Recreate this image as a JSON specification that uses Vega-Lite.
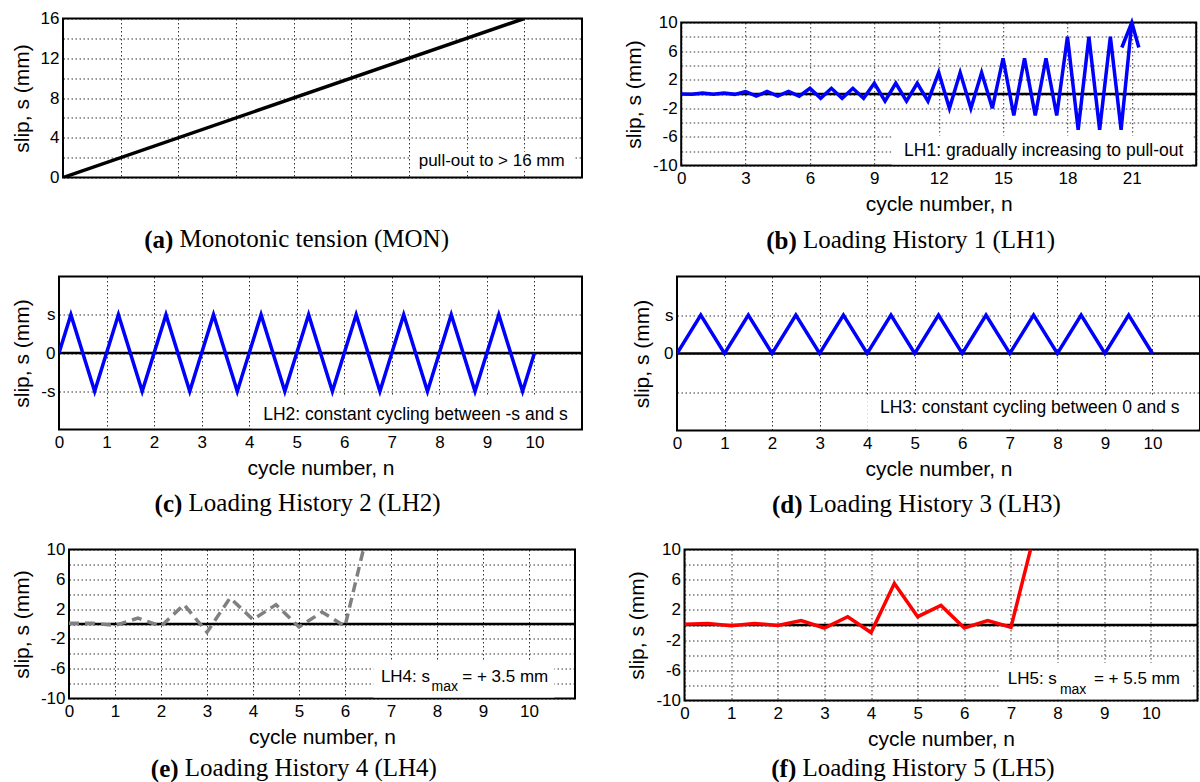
{
  "$schema": "https://vega.github.io/schema/vega-lite/v6.json",
  "background": "white",
  "padding": {"left": 9, "top": 7.5, "right": 0, "bottom": 0},
  "datasets": {
    "mon": [{"n": 0, "s": 0}, {"n": 8, "s": 16}],
    "lh1": [
      {"n": 0, "s": 0}, {"n": 0.5, "s": -0.05}, {"n": 1, "s": 0.15}, {"n": 1.5, "s": -0.05}, {"n": 2, "s": 0.15}, {"n": 2.5, "s": -0.05},
      {"n": 3, "s": 0.35}, {"n": 3.5, "s": -0.3}, {"n": 4, "s": 0.35}, {"n": 4.5, "s": -0.3}, {"n": 5, "s": 0.35}, {"n": 5.5, "s": -0.3},
      {"n": 6, "s": 0.8}, {"n": 6.5, "s": -0.6}, {"n": 7, "s": 0.8}, {"n": 7.5, "s": -0.6}, {"n": 8, "s": 0.8}, {"n": 8.5, "s": -0.6},
      {"n": 9, "s": 1.5}, {"n": 9.5, "s": -1}, {"n": 10, "s": 1.5}, {"n": 10.5, "s": -1}, {"n": 11, "s": 1.5}, {"n": 11.5, "s": -1},
      {"n": 12, "s": 3}, {"n": 12.5, "s": -2}, {"n": 13, "s": 3}, {"n": 13.5, "s": -2}, {"n": 14, "s": 3}, {"n": 14.5, "s": -2},
      {"n": 15, "s": 5}, {"n": 15.5, "s": -3}, {"n": 16, "s": 5}, {"n": 16.5, "s": -3}, {"n": 17, "s": 5}, {"n": 17.5, "s": -3},
      {"n": 18, "s": 8}, {"n": 18.5, "s": -5}, {"n": 19, "s": 8}, {"n": 19.5, "s": -5}, {"n": 20, "s": 8}, {"n": 20.5, "s": -5},
      {"n": 21, "s": 10}
    ],
    "lh2": [
      {"n": 0, "s": 0}, {"n": 0.25, "s": 1}, {"n": 0.75, "s": -1}, {"n": 1.25, "s": 1}, {"n": 1.75, "s": -1},
      {"n": 2.25, "s": 1}, {"n": 2.75, "s": -1}, {"n": 3.25, "s": 1}, {"n": 3.75, "s": -1}, {"n": 4.25, "s": 1},
      {"n": 4.75, "s": -1}, {"n": 5.25, "s": 1}, {"n": 5.75, "s": -1}, {"n": 6.25, "s": 1}, {"n": 6.75, "s": -1},
      {"n": 7.25, "s": 1}, {"n": 7.75, "s": -1}, {"n": 8.25, "s": 1}, {"n": 8.75, "s": -1}, {"n": 9.25, "s": 1},
      {"n": 9.75, "s": -1}, {"n": 10, "s": 0}
    ],
    "lh3": [
      {"n": 0, "s": 0}, {"n": 0.5, "s": 1}, {"n": 1, "s": 0}, {"n": 1.5, "s": 1}, {"n": 2, "s": 0}, {"n": 2.5, "s": 1},
      {"n": 3, "s": 0}, {"n": 3.5, "s": 1}, {"n": 4, "s": 0}, {"n": 4.5, "s": 1}, {"n": 5, "s": 0}, {"n": 5.5, "s": 1},
      {"n": 6, "s": 0}, {"n": 6.5, "s": 1}, {"n": 7, "s": 0}, {"n": 7.5, "s": 1}, {"n": 8, "s": 0}, {"n": 8.5, "s": 1},
      {"n": 9, "s": 0}, {"n": 9.5, "s": 1}, {"n": 10, "s": 0}
    ],
    "lh4": [
      {"n": 0, "s": 0.1}, {"n": 0.5, "s": 0.1}, {"n": 1, "s": -0.2}, {"n": 1.5, "s": 0.8}, {"n": 2, "s": -0.3},
      {"n": 2.5, "s": 2.6}, {"n": 3, "s": -1.1}, {"n": 3.5, "s": 3.5}, {"n": 4, "s": 0.6}, {"n": 4.5, "s": 2.6},
      {"n": 5, "s": -0.4}, {"n": 5.5, "s": 1.6}, {"n": 6, "s": -0.3}, {"n": 6.4, "s": 10}
    ],
    "lh5": [
      {"n": 0, "s": 0.1}, {"n": 0.5, "s": 0.2}, {"n": 1, "s": -0.1}, {"n": 1.5, "s": 0.2}, {"n": 2, "s": -0.05},
      {"n": 2.5, "s": 0.6}, {"n": 3, "s": -0.4}, {"n": 3.5, "s": 1.1}, {"n": 4, "s": -1.0}, {"n": 4.5, "s": 5.5},
      {"n": 5, "s": 1.1}, {"n": 5.5, "s": 2.6}, {"n": 6, "s": -0.4}, {"n": 6.5, "s": 0.6}, {"n": 7, "s": -0.3}, {"n": 7.42, "s": 10}
    ],
    "none": []
  },
  "spacing": 22,
  "vconcat": [
    {
      "spacing": 39.2,
      "hconcat": [
        {
          "spacing": 0,
          "hconcat": [
            {"width": 1, "height": 1, "view": {"stroke": null, "fill": null}, "data": {"name": "none"}, "mark": "point"},
            {
              "title": {"text": "(a)", "fontWeight": "bold", "offset": -25, "dx": -137.8},
              "spacing": 0,
              "vconcat": [
                {"width": 1, "height": 1, "view": {"stroke": null, "fill": null}, "data": {"name": "none"}, "mark": "point"},
                {
                  "width": 519, "height": 159,
                  "title": {"text": "Monotonic tension (MON)", "offset": 41, "dx": 17.7},
                  "layer": [
                    {"data": {"values": [{}]}, "mark": {"type": "rect", "color": "white"},
                     "encoding": {"x": {"datum": 6.03, "type": "quantitative"}, "x2": {"datum": 8.88}, "y": {"datum": 0.8, "type": "quantitative"}, "y2": {"datum": 2.6}}},
                    {"data": {"name": "mon"}, "mark": {"type": "line", "color": "black", "strokeWidth": 3.5, "clip": true},
                     "encoding": {
                       "x": {"field": "n", "type": "quantitative", "scale": {"domain": [0, 9], "nice": false, "zero": false},
                             "axis": {"title": null, "labels": false, "values": [0, 1, 2, 3, 4, 5, 6, 7, 8, 9], "tickCount": 100}},
                       "y": {"field": "s", "type": "quantitative", "scale": {"domain": [0, 16], "nice": false, "zero": false},
                             "axis": {"title": "slip, s (mm)", "values": [0, 2, 4, 6, 8, 10, 12, 14, 16], "tickCount": 100, "labelExpr": "datum.value % 4 == 0 ? '' + datum.value : ''", "labelOverlap": false, "minExtent": 0}}
                     }},
                    {"data": {"values": [{}]}, "mark": {"type": "text", "align": "right", "baseline": "middle", "fontSize": 17, "color": "black"},
                     "encoding": {"x": {"datum": 8.7, "type": "quantitative"}, "y": {"datum": 1.7, "type": "quantitative"}, "text": {"value": "pull-out to > 16 mm"}}}
                  ]
                }
              ]
            }
          ]
        },
        {
          "title": {"text": "(b)", "fontWeight": "bold", "offset": -25, "dx": -129.1},
          "spacing": 0,
          "vconcat": [
            {"width": 1, "height": 4.5, "view": {"stroke": null, "fill": null}, "data": {"name": "none"}, "mark": "point"},
            {
              "width": 515, "height": 143,
              "title": {"text": "Loading History 1 (LH1)", "offset": 13, "dx": 18.4},
              "layer": [
                {"data": {"values": [{}]}, "mark": {"type": "rect", "color": "white"},
                 "encoding": {"x": {"datum": 9.8, "type": "quantitative"}, "x2": {"datum": 23.8}, "y": {"datum": -9.85, "type": "quantitative"}, "y2": {"datum": -5.8}}},
                {"data": {"values": [{}]}, "mark": {"type": "rule", "color": "black", "strokeWidth": 2.5},
                 "encoding": {"y": {"datum": 0, "type": "quantitative"}}},
                {"data": {"name": "lh1"}, "mark": {"type": "line", "color": "#0000ff", "strokeWidth": 3.5, "clip": true},
                 "encoding": {
                   "x": {"field": "n", "type": "quantitative", "scale": {"domain": [0, 24], "nice": false, "zero": false},
                         "axis": {"title": "cycle number, n", "values": [0, 3, 6, 9, 12, 15, 18, 21, 24], "tickCount": 100, "labelExpr": "datum.value == 24 ? '' : '' + datum.value", "labelOverlap": false}},
                   "y": {"field": "s", "type": "quantitative", "scale": {"domain": [-10, 10], "nice": false, "zero": false},
                         "axis": {"title": "slip, s (mm)", "values": [-10, -8, -6, -4, -2, 0, 2, 4, 6, 8, 10], "tickCount": 100, "labelExpr": "(datum.value + 10) % 4 == 0 ? '' + datum.value : ''", "labelOverlap": false, "minExtent": 0}}
                 }},
                {"data": {"name": "lh1"}, "transform": [{"filter": "datum.n == 21"}],
                 "mark": {"type": "point", "shape": "M-0.4,1L0,0L0.28,1", "size": 2500, "filled": false, "color": "#0000ff", "strokeWidth": 3.5, "opacity": 1},
                 "encoding": {"x": {"field": "n", "type": "quantitative"}, "y": {"field": "s", "type": "quantitative"}}},
                {"data": {"values": [{}]}, "mark": {"type": "text", "align": "right", "baseline": "middle", "fontSize": 17.5, "color": "black"},
                 "encoding": {"x": {"datum": 23.4, "type": "quantitative"}, "y": {"datum": -8.0, "type": "quantitative"}, "text": {"value": "LH1: gradually increasing to pull-out"}}}
              ]
            }
          ]
        }
      ]
    },
    {
      "spacing": 45,
      "hconcat": [
        {
          "spacing": 0,
          "hconcat": [
            {"width": 1, "height": 1, "view": {"stroke": null, "fill": null}, "data": {"name": "none"}, "mark": "point"},
            {
              "title": {"text": "(c)", "fontWeight": "bold", "offset": -25, "dx": -129.1},
              "vconcat": [
                {
                  "width": 523, "height": 153,
                  "title": {"text": "Loading History 2 (LH2)", "offset": 12, "dx": 17.0},
                  "layer": [
                    {"data": {"values": [{}]}, "mark": {"type": "rect", "color": "white"},
                     "encoding": {"x": {"datum": 4.05, "type": "quantitative"}, "x2": {"datum": 10.95}, "y": {"datum": -1.97, "type": "quantitative"}, "y2": {"datum": -1.12}}},
                    {"data": {"values": [{}]}, "mark": {"type": "rule", "color": "black", "strokeWidth": 2.5},
                     "encoding": {"y": {"datum": 0, "type": "quantitative"}}},
                    {"data": {"name": "lh2"}, "mark": {"type": "line", "color": "#0000ff", "strokeWidth": 3.5, "clip": true},
                     "encoding": {
                       "x": {"field": "n", "type": "quantitative", "scale": {"domain": [0, 11], "nice": false, "zero": false},
                             "axis": {"title": "cycle number, n", "values": [0, 1, 2, 3, 4, 5, 6, 7, 8, 9, 10, 11], "tickCount": 100, "labelExpr": "datum.value == 11 ? '' : '' + datum.value", "labelOverlap": false}},
                       "y": {"field": "s", "type": "quantitative", "scale": {"domain": [-2, 2], "nice": false, "zero": false},
                             "axis": {"title": "slip, s (mm)", "values": [-1, 0, 1], "tickCount": 100, "labelExpr": "datum.value == 1 ? 's' : datum.value == -1 ? '-s' : '0'", "labelOverlap": false, "minExtent": 0}}
                     }},
                    {"data": {"values": [{}]}, "mark": {"type": "text", "align": "right", "baseline": "middle", "fontSize": 17.5, "color": "black"},
                     "encoding": {"x": {"datum": 10.7, "type": "quantitative"}, "y": {"datum": -1.62, "type": "quantitative"}, "text": {"value": "LH2: constant cycling between -s and s"}}}
                  ]
                }
              ]
            }
          ]
        },
        {
          "title": {"text": "(d)", "fontWeight": "bold", "offset": -25, "dx": -129.1},
          "vconcat": [
            {
              "width": 523, "height": 154,
              "title": {"text": "Loading History 3 (LH3)", "offset": 12, "dx": 18.4},
              "layer": [
                {"data": {"values": [{}]}, "mark": {"type": "rect", "color": "white"},
                 "encoding": {"x": {"datum": 4.0, "type": "quantitative"}, "x2": {"datum": 10.95}, "y": {"datum": -1.97, "type": "quantitative"}, "y2": {"datum": -1.1}}},
                {"data": {"values": [{}]}, "mark": {"type": "rule", "color": "black", "strokeWidth": 2.5},
                 "encoding": {"y": {"datum": 0, "type": "quantitative"}}},
                {"data": {"name": "lh3"}, "mark": {"type": "line", "color": "#0000ff", "strokeWidth": 3.5, "clip": true},
                 "encoding": {
                   "x": {"field": "n", "type": "quantitative", "scale": {"domain": [0, 11], "nice": false, "zero": false},
                         "axis": {"title": "cycle number, n", "values": [0, 1, 2, 3, 4, 5, 6, 7, 8, 9, 10, 11], "tickCount": 100, "labelExpr": "datum.value == 11 ? '' : '' + datum.value", "labelOverlap": false}},
                   "y": {"field": "s", "type": "quantitative", "scale": {"domain": [-2, 2], "nice": false, "zero": false},
                         "axis": {"title": "slip, s (mm)", "values": [-1, 0, 1], "tickCount": 100, "labelExpr": "datum.value == 1 ? 's' : datum.value == 0 ? '0' : ''", "labelOverlap": false, "minExtent": 16.5}}
                 }},
                {"data": {"values": [{}]}, "mark": {"type": "text", "align": "right", "baseline": "middle", "fontSize": 17.5, "color": "black"},
                 "encoding": {"x": {"datum": 10.57, "type": "quantitative"}, "y": {"datum": -1.42, "type": "quantitative"}, "text": {"value": "LH3: constant cycling between 0 and s"}}}
              ]
            }
          ]
        }
      ]
    },
    {
      "spacing": 47.5,
      "hconcat": [
        {
          "spacing": 0,
          "hconcat": [
            {"width": 1, "height": 1, "view": {"stroke": null, "fill": null}, "data": {"name": "none"}, "mark": "point"},
            {
              "title": {"text": "(e)", "fontWeight": "bold", "offset": -25, "dx": -129.1},
              "vconcat": [
                {
                  "width": 506, "height": 149,
                  "title": {"text": "Loading History 4 (LH4)", "offset": 8, "dx": 17.0},
                  "layer": [
                    {"data": {"values": [{}]}, "mark": {"type": "rect", "color": "white"},
                     "encoding": {"x": {"datum": 6.62, "type": "quantitative"}, "x2": {"datum": 10.55}, "y": {"datum": -9.85, "type": "quantitative"}, "y2": {"datum": -5.0}}},
                    {"data": {"values": [{}]}, "mark": {"type": "rule", "color": "black", "strokeWidth": 2.5},
                     "encoding": {"y": {"datum": 0, "type": "quantitative"}}},
                    {"data": {"name": "lh4"}, "mark": {"type": "line", "color": "#808080", "strokeWidth": 3.5, "strokeDash": [10, 6], "clip": true},
                     "encoding": {
                       "x": {"field": "n", "type": "quantitative", "scale": {"domain": [0, 11], "nice": false, "zero": false},
                             "axis": {"title": "cycle number, n", "values": [0, 1, 2, 3, 4, 5, 6, 7, 8, 9, 10, 11], "tickCount": 100, "labelExpr": "datum.value == 11 ? '' : '' + datum.value", "labelOverlap": false}},
                       "y": {"field": "s", "type": "quantitative", "scale": {"domain": [-10, 10], "nice": false, "zero": false},
                             "axis": {"title": "slip, s (mm)", "values": [-10, -8, -6, -4, -2, 0, 2, 4, 6, 8, 10], "tickCount": 100, "labelExpr": "(datum.value + 10) % 4 == 0 ? '' + datum.value : ''", "labelOverlap": false, "minExtent": 0}}
                     }},
                    {"data": {"values": [{}]}, "mark": {"type": "text", "align": "left", "baseline": "middle", "fontSize": 17, "color": "black"},
                     "encoding": {"x": {"datum": 6.78, "type": "quantitative"}, "y": {"datum": -7.05, "type": "quantitative"}, "text": {"value": "LH4: s"}}},
                    {"data": {"values": [{}]}, "mark": {"type": "text", "align": "left", "baseline": "middle", "fontSize": 14, "color": "black"},
                     "encoding": {"x": {"datum": 7.88, "type": "quantitative"}, "y": {"datum": -8.5, "type": "quantitative"}, "text": {"value": "max"}}},
                    {"data": {"values": [{}]}, "mark": {"type": "text", "align": "left", "baseline": "middle", "fontSize": 17, "color": "black"},
                     "encoding": {"x": {"datum": 8.55, "type": "quantitative"}, "y": {"datum": -7.05, "type": "quantitative"}, "text": {"value": "= + 3.5 mm"}}}
                  ]
                }
              ]
            }
          ]
        },
        {
          "title": {"text": "(f)", "fontWeight": "bold", "offset": -25, "dx": -129.1},
          "vconcat": [
            {
              "width": 513, "height": 151,
              "title": {"text": "Loading History 5 (LH5)", "offset": 6, "dx": 15.6},
              "layer": [
                {"data": {"values": [{}]}, "mark": {"type": "rect", "color": "white"},
                 "encoding": {"x": {"datum": 6.78, "type": "quantitative"}, "x2": {"datum": 10.9}, "y": {"datum": -9.85, "type": "quantitative"}, "y2": {"datum": -5.0}}},
                {"data": {"values": [{}]}, "mark": {"type": "rule", "color": "black", "strokeWidth": 2.5},
                 "encoding": {"y": {"datum": 0, "type": "quantitative"}}},
                {"data": {"name": "lh5"}, "mark": {"type": "line", "color": "#ff0000", "strokeWidth": 3.5, "clip": true},
                 "encoding": {
                   "x": {"field": "n", "type": "quantitative", "scale": {"domain": [0, 11], "nice": false, "zero": false},
                         "axis": {"title": "cycle number, n", "values": [0, 1, 2, 3, 4, 5, 6, 7, 8, 9, 10, 11], "tickCount": 100, "labelExpr": "datum.value == 11 ? '' : '' + datum.value", "labelOverlap": false}},
                   "y": {"field": "s", "type": "quantitative", "scale": {"domain": [-10, 10], "nice": false, "zero": false},
                         "axis": {"title": "slip, s (mm)", "values": [-10, -8, -6, -4, -2, 0, 2, 4, 6, 8, 10], "tickCount": 100, "labelExpr": "(datum.value + 10) % 4 == 0 ? '' + datum.value : ''", "labelOverlap": false, "minExtent": 0}}
                 }},
                {"data": {"values": [{}]}, "mark": {"type": "text", "align": "left", "baseline": "middle", "fontSize": 17, "color": "black"},
                 "encoding": {"x": {"datum": 6.93, "type": "quantitative"}, "y": {"datum": -7.2, "type": "quantitative"}, "text": {"value": "LH5: s"}}},
                {"data": {"values": [{}]}, "mark": {"type": "text", "align": "left", "baseline": "middle", "fontSize": 14, "color": "black"},
                 "encoding": {"x": {"datum": 8.05, "type": "quantitative"}, "y": {"datum": -8.6, "type": "quantitative"}, "text": {"value": "max"}}},
                {"data": {"values": [{}]}, "mark": {"type": "text", "align": "left", "baseline": "middle", "fontSize": 17, "color": "black"},
                 "encoding": {"x": {"datum": 8.78, "type": "quantitative"}, "y": {"datum": -7.2, "type": "quantitative"}, "text": {"value": "= + 5.5 mm"}}}
              ]
            }
          ]
        }
      ]
    }
  ],
  "config": {
    "font": "Liberation Sans",
    "view": {"stroke": "black", "strokeWidth": 2},
    "axis": {
      "domain": false, "ticks": false, "grid": true,
      "gridColor": "black", "gridDash": [1.5, 2.5], "gridWidth": 1, "gridOpacity": 0.8,
      "labelFont": "Liberation Sans", "labelFontSize": 17, "labelColor": "black",
      "labelFlush": false, "labelOverlap": false, "labelBound": false,
      "titleFont": "Liberation Sans", "titleFontSize": 21, "titleFontWeight": "normal", "titleColor": "black"
    },
    "axisX": {"labelPadding": 5, "titlePadding": 7},
    "axisY": {"labelPadding": 4, "titlePadding": 8},
    "title": {"font": "Liberation Serif", "fontSize": 25, "fontWeight": "normal", "color": "black", "orient": "bottom", "anchor": "middle", "frame": "bounds"},
    "text": {"font": "Liberation Sans"}
  }
}
